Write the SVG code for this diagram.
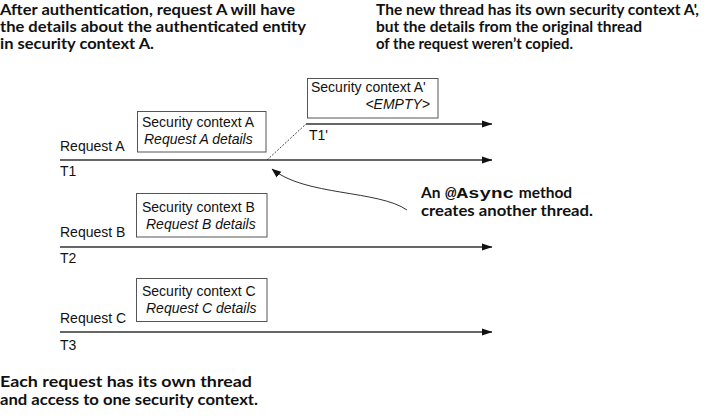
<svg xmlns="http://www.w3.org/2000/svg" width="714" height="418" viewBox="0 0 714 418">
<defs>
<marker id="arr" markerWidth="11" markerHeight="8" refX="10" refY="4" orient="auto" markerUnits="userSpaceOnUse">
<path d="M0,0.5 L10.5,4 L0,7.5 Z" fill="#111"/>
</marker>
<marker id="arr2" markerWidth="11" markerHeight="10" refX="9" refY="4.5" orient="auto" markerUnits="userSpaceOnUse">
<path d="M0,0.8 L9.5,4.5 L0,8.2 Z" fill="#111"/>
</marker>
</defs>
<style>
.note{font-family:Lato,"Liberation Sans",sans-serif;font-weight:bold;font-size:15.5px;fill:#111}
.mono{font-family:"Liberation Mono","DejaVu Sans Mono",monospace;font-weight:bold;font-size:14px;fill:#111}
.lbl{font-family:"Liberation Sans",Arial,sans-serif;font-size:14px;fill:#111}
.it{font-style:italic}
.box{fill:#fff;stroke:#555;stroke-width:1}
.line{stroke:#333;stroke-width:1.3;fill:none}
.dash{stroke:#333;stroke-width:0.9;fill:none;stroke-dasharray:2,1.5}
.curve{stroke:#333;stroke-width:1;fill:none}
</style>
<rect width="714" height="418" fill="#fff"/>

<g id="notes">
<text class="note" x="0" y="15" textLength="295" lengthAdjust="spacingAndGlyphs">After authentication, request A will have</text>
<text class="note" x="0" y="32" textLength="306" lengthAdjust="spacingAndGlyphs">the details about the authenticated entity</text>
<text class="note" x="0" y="48.5" textLength="154" lengthAdjust="spacingAndGlyphs">in security context A.</text>
<text class="note" x="376" y="15" textLength="323" lengthAdjust="spacingAndGlyphs">The new thread has its own security context A',</text>
<text class="note" x="376" y="32" textLength="266" lengthAdjust="spacingAndGlyphs">but the details from the original thread</text>
<text class="note" x="376" y="48.5" textLength="197" lengthAdjust="spacingAndGlyphs">of the request weren’t copied.</text>
<text class="note" y="197.5"><tspan x="421">An </tspan><tspan class="mono" x="445" textLength="69" lengthAdjust="spacingAndGlyphs">@Async</tspan><tspan x="515"> method</tspan></text>
<text class="note" x="421" y="216" textLength="172" lengthAdjust="spacingAndGlyphs">creates another thread.</text>
<text class="note" x="0" y="387" textLength="252" lengthAdjust="spacingAndGlyphs">Each request has its own thread</text>
<text class="note" x="0" y="405" textLength="258" lengthAdjust="spacingAndGlyphs">and access to one security context.</text>
</g>

<g id="connectors">
<line class="line" x1="60" y1="160" x2="492" y2="160" marker-end="url(#arr)"/>
<line class="line" x1="306" y1="124" x2="492" y2="124" marker-end="url(#arr)"/>
<line class="dash" x1="267" y1="160" x2="306" y2="124"/>
<line class="line" x1="60" y1="247" x2="492" y2="247" marker-end="url(#arr)"/>
<line class="line" x1="60" y1="332" x2="492" y2="332" marker-end="url(#arr)"/>
<path class="curve" d="M407,210 C378,190 305,196 272,169" marker-end="url(#arr2)"/>
</g>

<g id="requestA">
<text class="lbl" x="60" y="151">Request A</text>
<text class="lbl" x="60" y="176">T1</text>
</g>
<g id="contextA">
<rect class="box" x="137.5" y="111.5" width="128.5" height="40.5"/>
<text class="lbl" x="142" y="127">Security context A</text>
<text class="lbl it" x="144" y="144">Request A details</text>
</g>
<g id="contextA2">
<rect class="box" x="307.5" y="78.5" width="130.5" height="39.5"/>
<text class="lbl" x="311" y="92">Security context A'</text>
<text class="lbl it" x="430" y="109" text-anchor="end">&lt;EMPTY&gt;</text>
<text class="lbl" x="309" y="140">T1'</text>
</g>
<g id="requestB">
<text class="lbl" x="60" y="237">Request B</text>
<text class="lbl" x="60" y="263">T2</text>
</g>
<g id="contextB">
<rect class="box" x="136.5" y="193.5" width="130.5" height="43.5"/>
<text class="lbl" x="142" y="212">Security context B</text>
<text class="lbl it" x="146" y="229">Request B details</text>
</g>
<g id="requestC">
<text class="lbl" x="60" y="323">Request C</text>
<text class="lbl" x="60" y="350">T3</text>
</g>
<g id="contextC">
<rect class="box" x="136.5" y="278.5" width="130.5" height="43"/>
<text class="lbl" x="142" y="296">Security context C</text>
<text class="lbl it" x="146" y="313">Request C details</text>
</g>
</svg>
